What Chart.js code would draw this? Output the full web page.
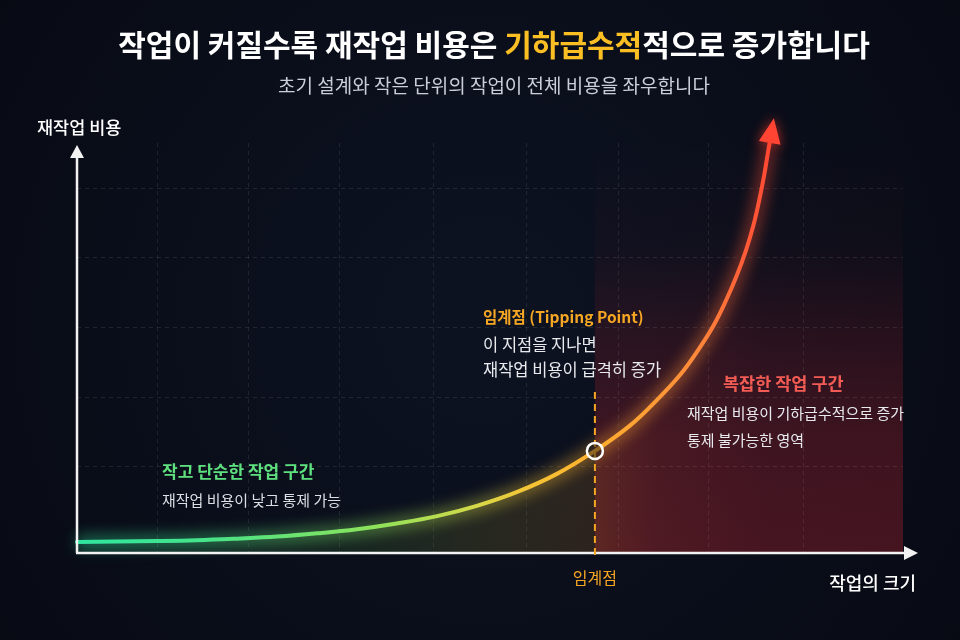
<!DOCTYPE html>
<html><head><meta charset="utf-8">
<script src="https://cdn.jsdelivr.net/npm/chart.js@4/dist/chart.umd.min.js"></script>
<style>html,body{margin:0;padding:0;background:#0a0e19;}#wrap{width:960px;height:640px;position:relative;}</style>
</head><body><div id="wrap"><canvas id="c" width="960" height="640"></canvas></div>
<script>
// ---- data ----
const workSize   = [0, 4.8, 9.7, 14.5, 19.4, 24.2, 29.1, 33.9, 38.7, 43.6, 48.4, 53.3, 58.1, 62.7, 66.9, 70.2, 73.0, 75.2, 77.1, 78.6, 79.9, 81.0, 81.9, 82.6, 83.2, 83.7, 83.9];
const reworkCost = [2.7, 2.8, 2.9, 3.1, 3.5, 4.0, 4.8, 5.8, 7.2, 9.0, 11.5, 14.9, 19.3, 24.9, 31.0, 37.3, 43.4, 49.5, 55.6, 61.7, 67.8, 73.9, 80.0, 86.1, 92.2, 98.3, 100.5];
const xGridTicks = [9.7, 20.8, 31.8, 43.1, 54.4, 65.5, 76.5, 88.0];
const yGridTicks = [21.2, 38.0, 54.9, 72.0, 89.0];
const tippingIndex = 13;

const titleParts = [["작업이 커질수록 재작업 비용은 ", "#ffffff"], ["기하급수적", "#fbbf24"], ["적으로 증가합니다", "#ffffff"]];
const subtitleText = "초기 설계와 작은 단위의 작업이 전체 비용을 좌우합니다";
const yAxisLabel = "재작업 비용";
const xAxisLabel = "작업의 크기";
const tippingTick = "임계점";
const tippingNote = ["임계점 (Tipping Point)", "이 지점을 지나면", "재작업 비용이 급격히 증가"];
const simpleNote = ["작고 단순한 작업 구간", "재작업 비용이 낮고 통제 가능"];
const complexNote = ["복잡한 작업 구간", "재작업 비용이 기하급수적으로 증가", "통제 불가능한 영역"];

const FONT = '"Noto Sans CJK KR", "Noto Sans", sans-serif';
const lineStops = [[0,'46,230,160'],[0.14,'70,227,138'],[0.33,'143,227,90'],[0.45,'216,216,72'],[0.51,'245,197,53'],[0.60,'255,176,46'],[0.70,'255,154,54'],[0.77,'255,138,58'],[0.88,'255,94,56'],[1,'255,68,51']];

function diagGradient(chart, alpha) {
  const {ctx, chartArea, scales} = chart;
  if (!chartArea) return 'rgba(255,170,50,' + alpha + ')';
  const x0 = scales.x.getPixelForValue(workSize[0]);
  const y0 = scales.y.getPixelForValue(0);
  const x1 = scales.x.getPixelForValue(workSize[workSize.length-1]);
  const y1 = scales.y.getPixelForValue(reworkCost[reworkCost.length-1]) - 20;
  const g = ctx.createLinearGradient(x0, y0, x1, y1);
  lineStops.forEach(s => g.addColorStop(s[0], 'rgba(' + s[1] + ',' + alpha + ')'));
  return g;
}
function fillGradient(chart) {
  const {ctx, chartArea, scales} = chart;
  if (!chartArea) return 'rgba(200,150,40,0.15)';
  const x0 = scales.x.getPixelForValue(workSize[0]);
  const x1 = scales.x.getPixelForValue(workSize[workSize.length-1]);
  const g = ctx.createLinearGradient(x0, 0, x1, 0);
  g.addColorStop(0, 'rgba(46,230,160,0.08)');
  g.addColorStop(0.38, 'rgba(110,220,80,0.11)');
  g.addColorStop(0.58, 'rgba(190,180,50,0.15)');
  g.addColorStop(0.74, 'rgba(220,140,40,0.16)');
  g.addColorStop(0.84, 'rgba(220,90,50,0.06)');
  g.addColorStop(1, 'rgba(220,60,50,0.0)');
  return g;
}

const decor = {
  id: 'decor',
  beforeDraw(chart) {
    const {ctx, chartArea: a, scales} = chart;
    ctx.save();
    const bg = ctx.createRadialGradient(480, 320, 50, 480, 320, 620);
    bg.addColorStop(0, '#0d1221');
    bg.addColorStop(1, '#070a13');
    ctx.fillStyle = bg;
    ctx.fillRect(0, 0, chart.width, chart.height);
    // complex zone
    const tx = scales.x.getPixelForValue(workSize[tippingIndex]);
    const rg = ctx.createLinearGradient(0, a.top, 0, a.bottom);
    rg.addColorStop(0, 'rgba(125,28,40,0)');
    rg.addColorStop(0.25, 'rgba(125,28,40,0.05)');
    rg.addColorStop(0.5, 'rgba(125,28,40,0.28)');
    rg.addColorStop(0.72, 'rgba(125,28,40,0.45)');
    rg.addColorStop(1, 'rgba(125,28,40,0.52)');
    ctx.fillStyle = rg;
    ctx.fillRect(tx, a.top, a.right - tx, a.bottom - a.top);
    ctx.restore();
  },
  beforeDatasetDraw(chart, args) {
    if (args.index === 1) { chart.ctx.save(); chart.ctx.filter = 'blur(7px)'; }
  },
  afterDatasetDraw(chart, args) {
    if (args.index === 1) { chart.ctx.restore(); }
  },
  afterDatasetsDraw(chart) {
    const {ctx, chartArea: a} = chart;
    const pts = chart.getDatasetMeta(0).data;
    ctx.save();
    // curve arrow head
    const p1 = pts[pts.length-1], p0 = pts[pts.length-3];
    let dx = p1.x - p0.x, dy = p1.y - p0.y; const len = Math.hypot(dx, dy); dx /= len; dy /= len;
    const tip = {x: p1.x + dx*23, y: p1.y + dy*23};
    const nx = -dy, ny = dx;
    ctx.shadowColor = 'rgba(255,60,40,0.7)'; ctx.shadowBlur = 12;
    ctx.fillStyle = '#ff4433';
    ctx.beginPath();
    ctx.moveTo(tip.x, tip.y);
    ctx.lineTo(p1.x - dx*2 + nx*11, p1.y - dy*2 + ny*11);
    ctx.lineTo(p1.x - dx*2 - nx*11, p1.y - dy*2 - ny*11);
    ctx.closePath(); ctx.fill();
    ctx.shadowBlur = 0;
    // axes
    ctx.strokeStyle = '#f2f2f2'; ctx.fillStyle = '#f2f2f2'; ctx.lineWidth = 2.5;
    ctx.beginPath(); ctx.moveTo(a.left, a.bottom); ctx.lineTo(a.left, a.top + 12); ctx.stroke();
    ctx.beginPath(); ctx.moveTo(a.left, a.top + 2); ctx.lineTo(a.left - 7, a.top + 15); ctx.lineTo(a.left + 7, a.top + 15); ctx.closePath(); ctx.fill();
    ctx.beginPath(); ctx.moveTo(a.left - 1, a.bottom); ctx.lineTo(a.right + 3, a.bottom); ctx.stroke();
    ctx.beginPath(); ctx.moveTo(a.right + 15, a.bottom); ctx.lineTo(a.right + 1, a.bottom - 7); ctx.lineTo(a.right + 1, a.bottom + 7); ctx.closePath(); ctx.fill();
    // tipping line + marker
    const tp = pts[tippingIndex];
    ctx.strokeStyle = '#f5a623'; ctx.lineWidth = 2; ctx.setLineDash([7, 5]);
    ctx.beginPath(); ctx.moveTo(tp.x, 392); ctx.lineTo(tp.x, a.bottom + 6); ctx.stroke();
    ctx.setLineDash([]);
    ctx.fillStyle = 'rgba(10,14,25,0.45)';
    ctx.strokeStyle = '#ffffff'; ctx.lineWidth = 2.5;
    ctx.beginPath(); ctx.arc(tp.x, tp.y, 8, 0, Math.PI*2); ctx.fill(); ctx.stroke();
    // texts
    ctx.textBaseline = 'middle';
    ctx.font = 'bold 30px ' + FONT;
    const tw = titleParts.reduce((s, p) => s + ctx.measureText(p[0]).width, 0);
    let x = 494 - tw/2;
    titleParts.forEach(p => { ctx.fillStyle = p[1]; ctx.textAlign = 'left'; ctx.fillText(p[0], x, 45); x += ctx.measureText(p[0]).width; });
    ctx.font = '19px ' + FONT; ctx.fillStyle = '#c9ced8'; ctx.textAlign = 'center';
    ctx.fillText(subtitleText, 494, 86);
    ctx.font = '500 17.5px ' + FONT; ctx.fillStyle = '#ffffff'; ctx.textAlign = 'left';
    ctx.fillText(yAxisLabel, 37, 127);
    ctx.font = '500 18px ' + FONT;
    ctx.textAlign = 'right'; ctx.fillText(xAxisLabel, a.right + 13, 583);
    ctx.font = '16px ' + FONT; ctx.fillStyle = '#f5a623'; ctx.textAlign = 'center';
    ctx.fillText(tippingTick, tp.x, 578);
    ctx.textAlign = 'left';
    ctx.font = 'bold 15.5px ' + FONT; ctx.fillStyle = '#f5a623';
    ctx.fillText(tippingNote[0], 483, 317);
    ctx.font = '16.5px ' + FONT; ctx.fillStyle = '#e8eaee';
    ctx.fillText(tippingNote[1], 483, 345);
    ctx.fillText(tippingNote[2], 483, 370);
    ctx.font = 'bold 17px ' + FONT; ctx.fillStyle = '#5ee07f';
    ctx.fillText(simpleNote[0], 162, 472);
    ctx.font = '15px ' + FONT; ctx.fillStyle = '#dcdfe4';
    ctx.fillText(simpleNote[1], 162, 500);
    ctx.font = 'bold 17.5px ' + FONT; ctx.fillStyle = '#f25c54';
    ctx.fillText(complexNote[0], 723, 383);
    ctx.font = '15px ' + FONT; ctx.fillStyle = '#e8eaee';
    ctx.fillText(complexNote[1], 687, 413);
    ctx.fillText(complexNote[2], 687, 440);
    ctx.restore();
  }
};

const points = workSize.map((v, i) => ({x: v, y: reworkCost[i]}));

new Chart(document.getElementById('c'), {
  type: 'line',
  data: {
    datasets: [
      {
        data: points, order: 0, clip: false,
        borderWidth: 4, pointRadius: 0, tension: 0.4,
        borderColor: c => diagGradient(c.chart, 1),
        fill: 'origin', backgroundColor: c => fillGradient(c.chart),
        borderCapStyle: 'round', borderJoinStyle: 'round'
      },
      {
        data: points, order: 1, clip: false,
        borderWidth: 14, pointRadius: 0, tension: 0.4,
        borderColor: c => diagGradient(c.chart, 0.4), fill: false
      }
    ]
  },
  options: {
    responsive: false, animation: false, events: [],
    layout: {padding: {left: 77, right: 57, top: 143, bottom: 87}},
    plugins: {legend: {display: false}, tooltip: {enabled: false}, title: {display: false}},
    scales: {
      x: {
        type: 'linear', min: 0, max: 100,
        afterBuildTicks: s => { s.ticks = xGridTicks.map(v => ({value: v})); },
        afterFit: s => { s.height = 0; },
        ticks: {display: false}, border: {display: false, dash: [4, 4]},
        grid: {color: 'rgba(255,255,255,0.09)', lineWidth: 1, drawTicks: false}
      },
      y: {
        type: 'linear', min: 0, max: 100,
        afterBuildTicks: s => { s.ticks = yGridTicks.map(v => ({value: v})); },
        afterFit: s => { s.width = 0; },
        ticks: {display: false}, border: {display: false, dash: [4, 4]},
        grid: {color: 'rgba(255,255,255,0.09)', lineWidth: 1, drawTicks: false}
      }
    }
  },
  plugins: [decor]
});
</script>
</body></html>
